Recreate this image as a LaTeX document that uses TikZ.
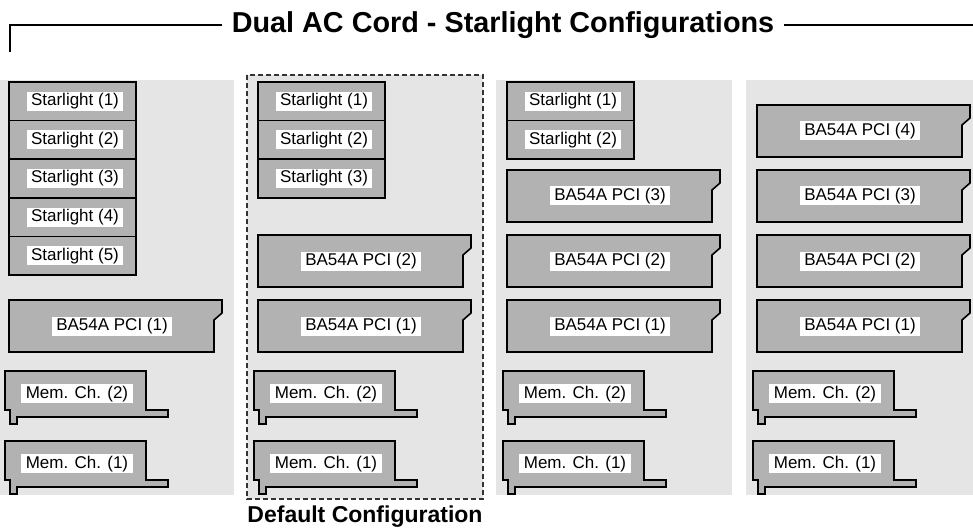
\documentclass[tikz,border=0pt]{standalone}
\usepackage{fontspec}
\setmainfont{Liberation Sans}
\begin{document}
\begin{tikzpicture}[x=1pt,y=-1pt,
	panel/.style={fill=black!10},
	card/.style={draw=black,fill=black!30,line width=1.6pt},
	tag/.style={fill=white,inner xsep=4.5pt,inner ysep=1.5pt,text height=12.5pt,text depth=3.5pt,font=\fontsize{17}{17}\selectfont},
	rule/.style={draw=black,line width=1.2pt}]
	\useasboundingbox (0,0) rectangle (973,529);
	\node (ttl) [inner xsep=10pt,text height=21pt,text depth=5pt,font=\fontsize{28.8}{30}\selectfont\bfseries] at (503,25) {Dual AC Cord - Starlight Configurations};
	\draw [rule] (ttl.west) -- (10,25) -- (10,52);
	\draw [rule] (ttl.east) -- (973,25);
	\fill [panel] (-2,80) rectangle (234,495);
	\draw [panel,draw=black!80,line width=1.3pt,dash pattern=on 5pt off 3pt] (247,75) rectangle (483,499);
	\fill [panel] (496,80) rectangle (732,495);
	\fill [panel] (746,80) rectangle (982,495);
	\draw [card] (9,82) rectangle (136,120.6);
	\node [tag] (s11) at (75,101.3) {Starlight (1)};
	\draw [card] (9,120.6) rectangle (136,159.2);
	\node [tag] (s12) at (75,139.9) {Starlight (2)};
	\draw [card] (9,159.2) rectangle (136,197.8);
	\node [tag] (s13) at (75,178.5) {Starlight (3)};
	\draw [card] (9,197.8) rectangle (136,236.4);
	\node [tag] (s14) at (75,217.1) {Starlight (4)};
	\draw [card] (9,236.4) rectangle (136,275);
	\node [tag] (s15) at (75,255.7) {Starlight (5)};
	\draw [card] (9,300) -- (222,300) -- (222,313) -- (214,320) -- (214,352) -- (9,352) -- cycle;
	\node [tag] (p11) at (112,326) {BA54A PCI (1)};
	\draw [card] (5,371) -- (146,371) -- (146,410) -- (168,410) -- (168,417) -- (17,417) -- (17,424) -- (10,424) -- (10,410) -- (5,410) -- cycle;
	\node [tag] (m12) at (77,393.5) {Mem. Ch. (2)};
	\draw [card] (5,441) -- (146,441) -- (146,480) -- (168,480) -- (168,487) -- (17,487) -- (17,494) -- (10,494) -- (10,480) -- (5,480) -- cycle;
	\node [tag] (m11) at (77,463.5) {Mem. Ch. (1)};
	\draw [card] (258,82) rectangle (385,120.6);
	\node [tag] (s21) at (324,101.3) {Starlight (1)};
	\draw [card] (258,120.6) rectangle (385,159.2);
	\node [tag] (s22) at (324,139.9) {Starlight (2)};
	\draw [card] (258,159.2) rectangle (385,197.8);
	\node [tag] (s23) at (324,178.5) {Starlight (3)};
	\draw [card] (258,235) -- (471,235) -- (471,248) -- (463,255) -- (463,287) -- (258,287) -- cycle;
	\node [tag] (p22) at (361,261) {BA54A PCI (2)};
	\draw [card] (258,300) -- (471,300) -- (471,313) -- (463,320) -- (463,352) -- (258,352) -- cycle;
	\node [tag] (p21) at (361,326) {BA54A PCI (1)};
	\draw [card] (254,371) -- (395,371) -- (395,410) -- (417,410) -- (417,417) -- (266,417) -- (266,424) -- (259,424) -- (259,410) -- (254,410) -- cycle;
	\node [tag] (m22) at (326,393.5) {Mem. Ch. (2)};
	\draw [card] (254,441) -- (395,441) -- (395,480) -- (417,480) -- (417,487) -- (266,487) -- (266,494) -- (259,494) -- (259,480) -- (254,480) -- cycle;
	\node [tag] (m21) at (326,463.5) {Mem. Ch. (1)};
	\draw [card] (507,82) rectangle (634,120.6);
	\node [tag] (s31) at (573,101.3) {Starlight (1)};
	\draw [card] (507,120.6) rectangle (634,159.2);
	\node [tag] (s32) at (573,139.9) {Starlight (2)};
	\draw [card] (507,170) -- (720,170) -- (720,183) -- (712,190) -- (712,222) -- (507,222) -- cycle;
	\node [tag] (p33) at (610,196) {BA54A PCI (3)};
	\draw [card] (507,235) -- (720,235) -- (720,248) -- (712,255) -- (712,287) -- (507,287) -- cycle;
	\node [tag] (p32) at (610,261) {BA54A PCI (2)};
	\draw [card] (507,300) -- (720,300) -- (720,313) -- (712,320) -- (712,352) -- (507,352) -- cycle;
	\node [tag] (p31) at (610,326) {BA54A PCI (1)};
	\draw [card] (503,371) -- (644,371) -- (644,410) -- (666,410) -- (666,417) -- (515,417) -- (515,424) -- (508,424) -- (508,410) -- (503,410) -- cycle;
	\node [tag] (m32) at (575,393.5) {Mem. Ch. (2)};
	\draw [card] (503,441) -- (644,441) -- (644,480) -- (666,480) -- (666,487) -- (515,487) -- (515,494) -- (508,494) -- (508,480) -- (503,480) -- cycle;
	\node [tag] (m31) at (575,463.5) {Mem. Ch. (1)};
	\draw [card] (757,105) -- (970,105) -- (970,118) -- (962,125) -- (962,157) -- (757,157) -- cycle;
	\node [tag] (p44) at (860,131) {BA54A PCI (4)};
	\draw [card] (757,170) -- (970,170) -- (970,183) -- (962,190) -- (962,222) -- (757,222) -- cycle;
	\node [tag] (p43) at (860,196) {BA54A PCI (3)};
	\draw [card] (757,235) -- (970,235) -- (970,248) -- (962,255) -- (962,287) -- (757,287) -- cycle;
	\node [tag] (p42) at (860,261) {BA54A PCI (2)};
	\draw [card] (757,300) -- (970,300) -- (970,313) -- (962,320) -- (962,352) -- (757,352) -- cycle;
	\node [tag] (p41) at (860,326) {BA54A PCI (1)};
	\draw [card] (753,371) -- (894,371) -- (894,410) -- (916,410) -- (916,417) -- (765,417) -- (765,424) -- (758,424) -- (758,410) -- (753,410) -- cycle;
	\node [tag] (m42) at (825,393.5) {Mem. Ch. (2)};
	\draw [card] (753,441) -- (894,441) -- (894,480) -- (916,480) -- (916,487) -- (765,487) -- (765,494) -- (758,494) -- (758,480) -- (753,480) -- cycle;
	\node [tag] (m41) at (825,463.5) {Mem. Ch. (1)};
	\node (dflt) [anchor=base,font=\fontsize{23}{24}\selectfont\bfseries] at (365,522) {Default Configuration};
\end{tikzpicture}
\end{document}
